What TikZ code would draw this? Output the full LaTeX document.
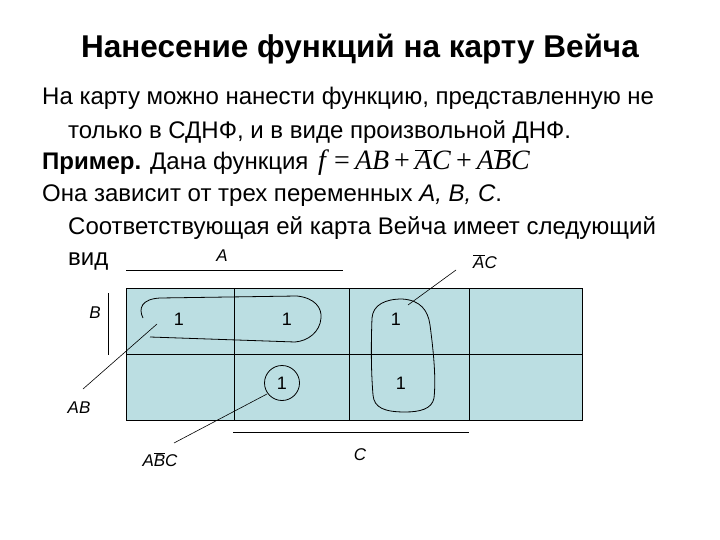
\documentclass[tikz,border=0pt]{standalone}
\usepackage{fontspec}
\setmainfont{Liberation Sans}
\newfontfamily\serif{Liberation Serif}
\newcommand{\ovl}[1]{$\overline{\hbox{\itshape #1}}$}
\begin{document}
\begin{tikzpicture}[x=1pt,y=-1pt,
  txt/.style={anchor=base west,inner sep=0pt,font=\fontsize{24}{28}\selectfont},
  lbl/.style={inner sep=0pt,font=\fontsize{17}{20}\selectfont\itshape},
  one/.style={inner sep=0pt,font=\fontsize{18}{20}\selectfont},
  thin/.style={line width=0.6pt},
  loop/.style={line width=0.8pt}]
\useasboundingbox (0,0) rectangle (720,540);
\definecolor{mapfill}{RGB}{187,222,226}
% title and text
\node[anchor=base,inner sep=0pt,font=\fontsize{31.5}{36}\selectfont\bfseries] (title) at (360,58) {Нанесение функций на карту Вейча};
\node[txt] (l1) at (42,105) {На карту можно нанести функцию, представленную не};
\node[txt] (l2) at (68,139) {только в СДНФ, и в виде произвольной ДНФ.};
\node[txt] (l3) at (42,170) {\textbf{Пример.} Дана функция};
\node[anchor=base west,inner sep=0pt,font=\serif\fontsize{28}{30}\selectfont] (f) at (318,170)
  {\textit{f}\kern5pt=\kern5pt\textit{AB}\kern5pt+\kern5pt\ovl{A}\textit{C}\kern5pt+\kern5pt\textit{A}\ovl{B}\textit{C}};
\node[txt] (l4) at (42,202) {Она зависит от трех переменных \textit{A, B, C}.};
\node[txt] (l5) at (68,235) {Соответствующая ей карта Вейча имеет следующий};
\node[txt] (l6) at (68,265) {вид};
% map
\fill[mapfill] (126,288) rectangle (582,420);
\draw[thin] (126,288) rectangle (582,420);
\draw[thin] (126,354) -- (582,354);
\foreach \xx in {234,349,469} \draw[thin] (\xx,288) -- (\xx,420);
% variable bars
\draw[thin] (126,270) -- (343,270);
\node[lbl] (A) at (222,256) {A};
\draw[thin] (108,293) -- (108,355);
\node[lbl] (B) at (95,313) {B};
\draw[thin] (233,432) -- (469,432);
\node[lbl] (C) at (360,455) {C};
% ones
\node[one] (o1) at (179,319) {1};
\node[one] (o2) at (287,319) {1};
\node[one] (o3) at (396,319) {1};
\node[one] (o4) at (282,383) {1};
\node[one] (o5) at (401,383) {1};
% loops
\draw[loop] (143,318) .. controls (138,308) and (142,299) .. (160,298)
  -- (297,296) .. controls (315,298) and (322,308) .. (321,318)
  .. controls (320,332) and (308,341) .. (295,342) -- (150,337);
\draw[loop] (282,383) circle (17.5);
\coordinate (cb) at (267,394);
\draw[loop] (402,299) .. controls (420,300) and (428,310) .. (430,325)
  .. controls (434,355) and (436,380) .. (434,398)
  .. controls (432,409) and (420,412) .. (405,412)
  .. controls (385,412) and (374,408) .. (373,395)
  .. controls (371,370) and (371,345) .. (372,318)
  .. controls (373,305) and (385,299) .. (402,299);
% labels with leaders
\node[lbl] (AB) at (79,408) {AB};
\node[lbl] (ABC) at (160,460) {A\ovl{B}C};
\node[lbl] (AC) at (485,262) {\ovl{A}C};
\coordinate (pAB) at (157,324);
\coordinate (pAC) at (408,305);
\coordinate (qAB) at (83,389);
\coordinate (qABC) at (174,443);
\coordinate (qAC) at (456,270);
\draw[thin] (qAB) -- (pAB);
\draw[thin] (qABC) -- (cb);
\draw[thin] (qAC) -- (pAC);
\end{tikzpicture}
\end{document}
